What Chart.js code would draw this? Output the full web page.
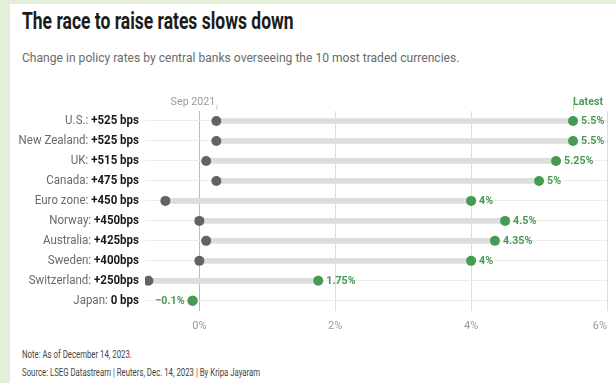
<!DOCTYPE html>
<html>
<head>
<meta charset="utf-8">
<script src="https://cdn.jsdelivr.net/npm/chart.js@4/dist/chart.umd.min.js"></script>
<style>
  html, body { margin: 0; padding: 0; }
  body { width: 616px; height: 383px; background: #e3efd8; position: relative; overflow: hidden; font-family: Roboto, sans-serif; }
  .panel { position: absolute; left: 10px; top: 4px; right: 0; bottom: 0; background: #fff; }
  .txt { position: absolute; left: 22px; white-space: nowrap; transform-origin: left top; }
  #title { top: 8px; font-size: 23px; font-weight: 700; color: #1c1c1c; transform: scaleX(0.76); }
  #subtitle { top: 50px; font-size: 13px; color: #6b6b6b; transform: scaleX(0.93); }
  #note { top: 349px; font-size: 10px; color: #444; transform: scaleX(0.78); }
  #source { top: 367px; font-size: 10px; color: #444; transform: scaleX(0.78); }
  #wrap { position: absolute; left: 0; top: 0; width: 616px; height: 383px; }
</style>
</head>
<body>
<div class="panel"></div>
<div class="txt" id="title">The race to raise rates slows down</div>
<div class="txt" id="subtitle">Change in policy rates by central banks overseeing the 10 most traded currencies.</div>
<div class="txt" id="note">Note: As of December 14, 2023.</div>
<div class="txt" id="source">Source: LSEG Datastream | Reuters, Dec. 14, 2023 | By Kripa Jayaram</div>
<div id="wrap"><canvas id="chart" width="616" height="383"></canvas></div>
<script>
// policy rates, %
const countries = ['U.S.', 'New Zealand', 'UK', 'Canada', 'Euro zone', 'Norway', 'Australia', 'Sweden', 'Switzerland', 'Japan'];
const changes = ['+525 bps', '+525 bps', '+515 bps', '+475 bps', '+450 bps', '+450bps', '+425bps', '+400bps', '+250bps', '0 bps'];
const sep2021 = [0.25, 0.25, 0.1, 0.25, -0.5, 0, 0.1, 0, -0.75, -0.1];
const latest = [5.5, 5.5, 5.25, 5, 4, 4.5, 4.35, 4, 1.75, -0.1];
const xTicks = [0, 2, 4, 6];

const GREEN = '#479a52';
const GREY_DOT = '#636363';
const SQUEEZE = 0.93;
const ROW_SQUEEZE = 0.96;

function fmtPct(v) {
  return (v < 0 ? '\u2212' + Math.abs(v) : String(v)) + '%';
}

// row labels, value labels and the two column headers
const labelsPlugin = {
  id: 'labels',
  afterDatasetsDraw(chart) {
    const ctx = chart.ctx;
    const xs = chart.scales.x, ys = chart.scales.y;
    ctx.save();
    ctx.textBaseline = 'middle';
    countries.forEach((name, i) => {
      const y = ys.getPixelForValue(i);
      ctx.save();
      ctx.translate(139, y);
      ctx.scale(ROW_SQUEEZE, 1);
      ctx.textAlign = 'right';
      ctx.font = '700 12px Roboto';
      ctx.fillStyle = '#1a1a1a';
      ctx.fillText(changes[i], 0, 0);
      const w = ctx.measureText(changes[i]).width;
      ctx.font = '400 12px Roboto';
      ctx.fillStyle = '#6a6a6a';
      ctx.fillText(name + ': ', -w, 0);
      ctx.restore();

      const v = latest[i];
      const px = xs.getPixelForValue(v);
      const left = v < sep2021[i] || v === sep2021[i] && v < 0;
      ctx.save();
      ctx.translate(left ? px - 8 : px + 8, y + 0.5);
      ctx.scale(SQUEEZE, 1);
      ctx.textAlign = left ? 'right' : 'left';
      ctx.font = '700 11.5px Roboto';
      ctx.fillStyle = GREEN;
      ctx.fillText(fmtPct(v), 0, 0);
      ctx.restore();
    });

    const top = chart.chartArea.top;
    const sx = xs.getPixelForValue(sep2021[0]);
    const lx = xs.getPixelForValue(latest[0]);
    ctx.strokeStyle = '#c8c8c8';
    ctx.lineWidth = 1;
    ctx.beginPath();
    ctx.moveTo(sx + 0.5, top - 6); ctx.lineTo(sx + 0.5, top - 1);
    ctx.moveTo(lx + 0.5, top - 6); ctx.lineTo(lx + 0.5, top - 1);
    ctx.stroke();

    ctx.textBaseline = 'alphabetic';
    ctx.save();
    ctx.translate(sx - 1, top - 6);
    ctx.scale(SQUEEZE, 1);
    ctx.textAlign = 'right';
    ctx.font = '400 11.5px Roboto';
    ctx.fillStyle = '#9a9a9a';
    ctx.fillText('Sep 2021', 0, 0);
    ctx.restore();

    ctx.save();
    ctx.translate(lx, top - 6);
    ctx.scale(SQUEEZE, 1);
    ctx.textAlign = 'left';
    ctx.font = '700 11.5px Roboto';
    ctx.fillStyle = GREEN;
    ctx.fillText('Latest', 0, 0);
    ctx.restore();
    ctx.restore();
  }
};

new Chart(document.getElementById('chart'), {
  type: 'bar',
  data: {
    labels: countries,
    datasets: [
      {
        label: 'change',
        data: sep2021.map((s, i) => [s, latest[i]]),
        backgroundColor: '#dddddd',
        barThickness: 5,
        borderSkipped: false,
        order: 3
      },
      {
        type: 'line',
        label: 'Sep 2021',
        indexAxis: 'y',
        data: sep2021,
        showLine: false,
        pointRadius: 5,
        pointBackgroundColor: GREY_DOT,
        pointBorderWidth: 0,
        order: 2
      },
      {
        type: 'line',
        label: 'Latest',
        indexAxis: 'y',
        data: latest,
        showLine: false,
        pointRadius: 5,
        pointBackgroundColor: GREEN,
        pointBorderWidth: 0,
        order: 1
      }
    ]
  },
  options: {
    indexAxis: 'y',
    responsive: false,
    animation: false,
    layout: { padding: { left: 145, top: 111, right: 5, bottom: 41 } },
    plugins: { legend: { display: false }, tooltip: { enabled: false } },
    scales: {
      x: {
        type: 'linear',
        min: -0.8,
        max: 6,
        afterBuildTicks(scale) {
          scale.ticks = [-0.8, ...xTicks].map(v => ({ value: v }));
        },
        border: { display: false },
        grid: {
          drawTicks: false,
          color: c => c.tick.value === 0 ? '#bcbcbc' : (c.tick.value < 0 ? 'rgba(0,0,0,0)' : '#dedede')
        },
        ticks: {
          align: 'inner',
          padding: 9,
          color: '#9a9a9a',
          font: { family: 'Roboto', size: 11 },
          callback: v => v < 0 ? '' : v + '%'
        }
      },
      y: {
        type: 'category',
        border: { display: false },
        grid: { offset: false, drawTicks: false, color: '#ececec' },
        ticks: { display: false }
      }
    }
  },
  plugins: [labelsPlugin]
});
</script>
</body>
</html>
